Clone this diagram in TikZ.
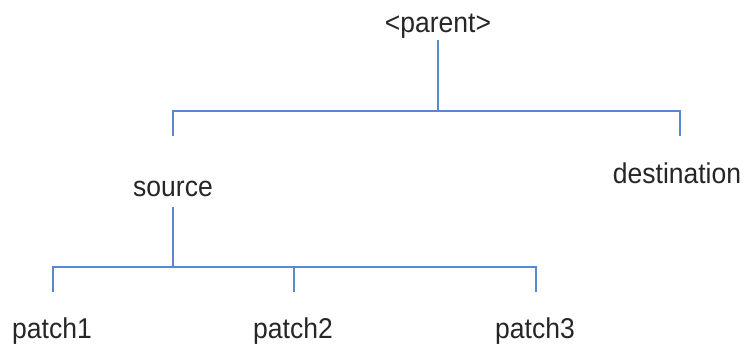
\documentclass[tikz,border=0pt]{standalone}
\usepackage{fontspec}
\setmainfont{Liberation Sans}
\definecolor{linkblue}{HTML}{5A88CF}
\begin{document}
\begin{tikzpicture}[x=1pt,y=-1pt,
  lbl/.style={font=\fontsize{26.5}{30}\selectfont, text=black!85, anchor=base, inner sep=0pt, yscale=1.08, transform shape},
  link/.style={draw=linkblue, line width=1.6pt}]
\useasboundingbox (0,0) rectangle (744,343);
\node[lbl] (parent) at (438,32) {<parent>};
\node[lbl] (source) at (173,196) {source};
\node[lbl] (dest) at (677,183) {destination};
\node[lbl] (p1) at (52,338) {patch1};
\node[lbl] (p2) at (293,338) {patch2};
\node[lbl] (p3) at (535,338) {patch3};
\coordinate (ptop) at (438,40);
\coordinate (pbar) at (438,111);
\coordinate (sbar) at (173,111);
\coordinate (dbar) at (680,111);
\coordinate (sdrop) at (173,136);
\coordinate (ddrop) at (680,136);
\coordinate (stop) at (173,207);
\coordinate (cbar) at (173,267);
\coordinate (b1) at (53,267);
\coordinate (b2) at (294,267);
\coordinate (b3) at (536,267);
\coordinate (d1) at (53,292);
\coordinate (d2) at (294,292);
\coordinate (d3) at (536,292);
\draw[link] (ptop) -- (pbar);
\draw[link] (sdrop) -- (sbar) -- (dbar) -- (ddrop);
\draw[link] (stop) -- (cbar);
\draw[link] (d1) -- (b1) -- (b3) -- (d3);
\draw[link] (b2) -- (d2);
\end{tikzpicture}
\end{document}
